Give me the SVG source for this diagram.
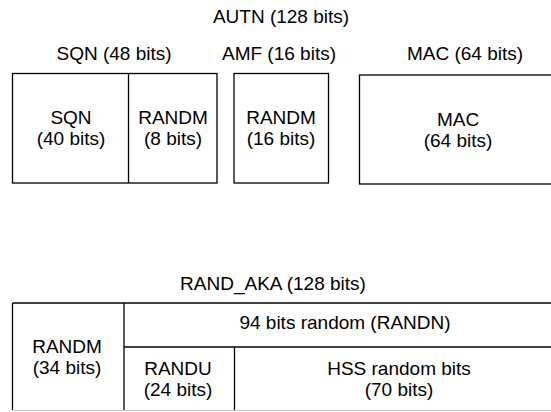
<svg xmlns="http://www.w3.org/2000/svg" width="551" height="412" viewBox="0 0 551 412">
<style>
text{font-family:"Liberation Sans",Arial,sans-serif;font-size:19px;fill:#000;text-anchor:middle}
.b{fill:#fff;stroke:#000;stroke-width:1.3}
.l{stroke:#000;stroke-width:1.3;fill:none}
</style>
<rect width="551" height="412" fill="#fff"/>
<g id="autn-title"><text x="281" y="22.5">AUTN (128 bits)</text></g>
<g id="sqn-field">
<text x="114" y="60">SQN (48 bits)</text>
<rect class="b" x="12.5" y="73.5" width="204.5" height="109.5"/>
<line class="l" x1="128.5" y1="73.5" x2="128.5" y2="183"/>
<text x="71" y="124">SQN</text><text x="71" y="145">(40 bits)</text>
<text x="173" y="124">RANDM</text><text x="173" y="145">(8 bits)</text>
</g>
<g id="amf-field">
<text x="279" y="60">AMF (16 bits)</text>
<rect class="b" x="234" y="73.5" width="94.5" height="109.5"/>
<text x="281" y="124">RANDM</text><text x="281" y="145">(16 bits)</text>
</g>
<g id="mac-field">
<text x="465" y="60">MAC  (64 bits)</text>
<rect class="b" x="359.5" y="75" width="200" height="109"/>
<text x="458" y="126">MAC</text><text x="458" y="147">(64 bits)</text>
</g>
<g id="rand-aka">
<text x="273" y="290">RAND_AKA (128 bits)</text>
<line x1="12.5" y1="410.5" x2="551" y2="410.5" stroke="#c8c8c8" stroke-width="1"/>
<line class="l" x1="12.5" y1="303" x2="551" y2="303"/>
<line class="l" x1="12.5" y1="303" x2="12.5" y2="410"/>
<line class="l" x1="124" y1="303" x2="124" y2="410"/>
<line class="l" x1="124" y1="347" x2="551" y2="347"/>
<line class="l" x1="234.5" y1="347" x2="234.5" y2="410"/>
<text x="67" y="352.5">RANDM</text><text x="67" y="373.5">(34 bits)</text>
<text x="345" y="329">94 bits random (RANDN)</text>
<text x="178" y="375">RANDU</text><text x="178" y="396">(24 bits)</text>
<text x="399" y="375">HSS random bits</text><text x="399" y="396">(70 bits)</text>
</g>
</svg>
